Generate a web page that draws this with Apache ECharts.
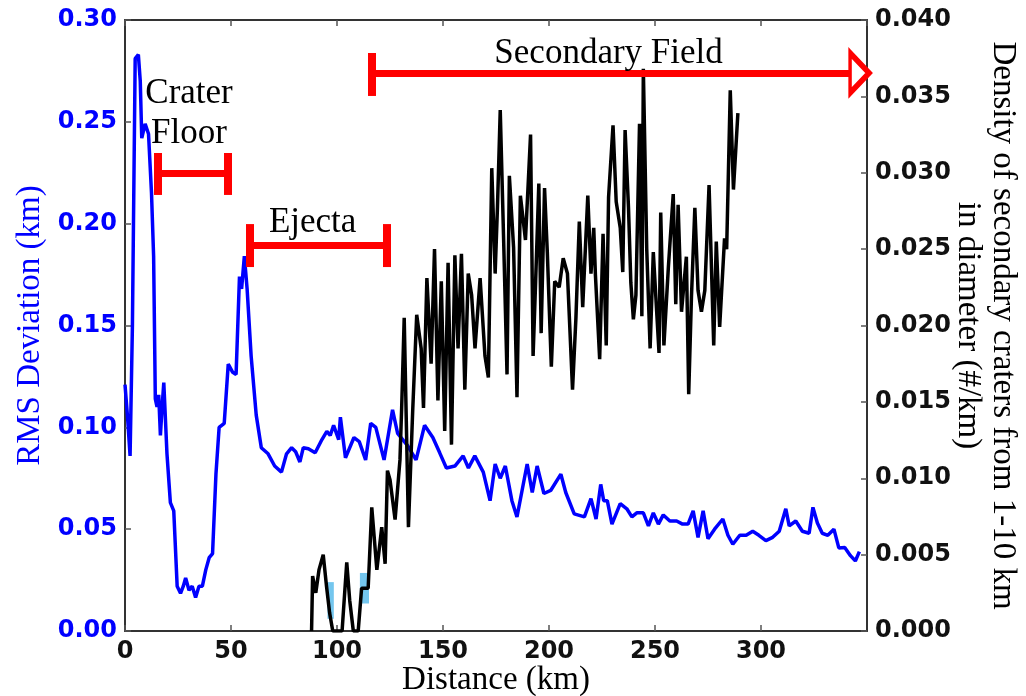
<!DOCTYPE html>
<html>
<head>
  <meta charset="UTF-8">
  <style>
    body { margin: 0; background: #fff; }
    #main { width: 1026px; height: 696px; }
  </style>
</head>
<body>
  <div id="main"></div>
</body>
  <script src="https://cdn.jsdelivr.net/npm/echarts@6/dist/echarts.min.js"></script>
  <script type="text/javascript">
    // RMS deviation (km) along the profile, left axis
    var rmsDistance = [0, 1.2, 2.4, 3.5, 4.8, 6.3, 7.2, 7.9, 9.5, 11.1, 12.5, 13.5, 14.3, 15.1, 15.9, 16.7, 17.5, 18.3, 19.8, 21.4,
      23, 24.6, 26.2, 27.5, 28.6, 30.2, 31.7, 33.3, 34.9, 36.5, 38.1, 39.7, 41.3, 42.9, 44.4, 46.8, 48.7, 50.8, 52.4, 54,
      55, 56.3, 57.6, 59.5, 61.9, 64.3, 67.5, 70.6, 73.8, 76.2, 78.6, 80.5, 82.5, 84.1, 86.5, 89.7, 92.9, 95.2, 96.8, 98.4,
      100.8, 101.6, 104, 108, 110.5, 113.5, 115.9, 118.3, 122.2, 126.2, 128.6, 133.3, 137.3, 141.3, 145.2, 148.4, 151.6, 155.6, 159.5, 162,
      165, 169, 172.2, 174.6, 177, 179.4, 182.5, 184.9, 187.3, 189.7, 192.1, 194.4, 197.6, 200.8, 205.6, 207.9, 211.9, 216.7, 219.8, 222.2,
      224.4, 225.8, 227.5, 229.7, 233.6, 236.7, 239.1, 241.4, 244.5, 246.9, 249.2, 251.6, 253.9, 257, 260.2, 263, 265.6, 268, 270.3, 272.7,
      275, 278.1, 282, 284.4, 286.7, 290, 293, 296.1, 299, 302.3, 305.5, 308.6, 311.7, 313.3, 316.4, 319.5, 322.7, 324.5, 326.6, 328.9,
      331.5, 334.4, 336.7, 339.5, 342.2, 344.5, 346.4];
    var rmsValues = [0.121, 0.105, 0.086, 0.15, 0.281, 0.283, 0.27, 0.242, 0.249, 0.244, 0.215, 0.184, 0.114, 0.11, 0.116, 0.096, 0.11, 0.122, 0.087, 0.063,
      0.059, 0.022, 0.0185, 0.022, 0.026, 0.02, 0.022, 0.0165, 0.022, 0.022, 0.03, 0.036, 0.038, 0.077, 0.1, 0.102, 0.131, 0.127, 0.126, 0.174,
      0.168, 0.184, 0.168, 0.135, 0.106, 0.09, 0.087, 0.081, 0.078, 0.087, 0.09, 0.088, 0.083, 0.09, 0.0895, 0.0875, 0.094, 0.098, 0.096, 0.101,
      0.094, 0.105, 0.085, 0.095, 0.093, 0.084, 0.102, 0.1, 0.084, 0.1086, 0.097, 0.091, 0.084, 0.101, 0.095, 0.0876, 0.08, 0.081, 0.086, 0.08,
      0.086, 0.078, 0.064, 0.082, 0.075, 0.081, 0.064, 0.056, 0.069, 0.082, 0.068, 0.081, 0.0675, 0.069, 0.077, 0.068, 0.0575, 0.056, 0.065, 0.055,
      0.072, 0.064, 0.064, 0.0525, 0.0625, 0.06, 0.056, 0.058, 0.058, 0.0516, 0.058, 0.0525, 0.057, 0.054, 0.054, 0.0525, 0.0525, 0.059, 0.046, 0.059,
      0.0453, 0.05, 0.055, 0.047, 0.0426, 0.047, 0.047, 0.049, 0.047, 0.0444, 0.046, 0.049, 0.06, 0.0516, 0.054, 0.049, 0.048, 0.0607, 0.053, 0.048,
      0.047, 0.05, 0.0408, 0.041, 0.037, 0.0344, 0.039];

    // density of secondary craters (#/km), right axis
    var densityDistance = [88, 88.5, 90, 91.5, 93.5, 95, 96.5, 98, 101, 102.4, 104.6, 106, 107.7, 110, 111.6, 114.7, 116.4, 118.8, 121.1, 122.7,
      123.8, 125, 127.4, 129.7, 130.5, 131.7, 133.7, 135.7, 137.6, 139.7, 140.8, 142.4, 144.4, 146, 147.6, 149.2, 150.8, 152.4, 154, 155.6,
      157.1, 158.7, 160.3, 161.9, 163.5, 165.1, 167.5, 169.8, 171.4, 173, 174.6, 175.7, 177, 178.6, 180.2, 181.3, 183.3, 184.9, 186.5, 188.9,
      191.3, 192.5, 193.7, 195.2, 196.3, 197.9, 199.2, 201.1, 202.7, 204.8, 206.7, 208.7, 211.1, 212.7, 214.3, 215.9, 218.3, 219.8, 221.1, 221.9,
      223.9, 225.5, 227, 228.1, 230.2, 231.7, 233.6, 234.8, 235.9, 237.5, 238.6, 239.8, 241, 242.7, 243.8, 244.5, 246.1, 247.7, 249.2, 251.9,
      252.7, 254.2, 256.3, 258.6, 259.8, 260.9, 262.5, 264.8, 265.9, 267.2, 268.8, 270.3, 271.9, 273.5, 275.5, 277.7, 278.9, 280.5, 282.8, 283.8,
      285.5, 287, 289.1];
    var densityValues = [0, 0.0036, 0.0025, 0.004, 0.005, 0.003, 0.0012, 0, 0, 0, 0.0045, 0.002, 0, 0, 0.0028, 0.0028, 0.0081, 0.004, 0.0068, 0.0044,
      0.0105, 0.0099, 0.0073, 0.0112, 0.0146, 0.0205, 0.0068, 0.0144, 0.0207, 0.0185, 0.0146, 0.0231, 0.0175, 0.025, 0.0151, 0.0229, 0.0131, 0.0241, 0.0122, 0.0246,
      0.0185, 0.0247, 0.0158, 0.0234, 0.022, 0.0185, 0.0231, 0.018, 0.0166, 0.0303, 0.0234, 0.0278, 0.0341, 0.0256, 0.0168, 0.0298, 0.0251, 0.0153, 0.0285, 0.0256,
      0.0325, 0.018, 0.0229, 0.0293, 0.0195, 0.029, 0.0248, 0.0173, 0.0229, 0.0225, 0.0244, 0.0234, 0.0158, 0.0205, 0.0268, 0.0212, 0.0285, 0.0234, 0.0264, 0.0233,
      0.0178, 0.026, 0.0187, 0.0284, 0.0331, 0.0281, 0.0264, 0.0235, 0.0328, 0.0277, 0.0228, 0.0204, 0.022, 0.0332, 0.0206, 0.0368, 0.025, 0.0185, 0.0248, 0.0182,
      0.0274, 0.0187, 0.0238, 0.0286, 0.0214, 0.0279, 0.0209, 0.0245, 0.0155, 0.0219, 0.0277, 0.0223, 0.0209, 0.0223, 0.0292, 0.0187, 0.0255, 0.0199, 0.0257, 0.025,
      0.0354, 0.0289, 0.0339];

    // light blue error boxes near the start of the density curve
    var bandFrom = [[95.5, 0.0008], [110.8, 0.0018]];
    var bandTo = [[98.5, 0.0032], [115.1, 0.0038]];

    var numFont = 'DejaVu Sans';
    var serif = 'Liberation Serif';

    function pairs(xs, ys) {
      var out = [];
      for (var i = 0; i < xs.length; i++) out.push([xs[i], ys[i]]);
      return out;
    }

    var red = '#ff0000';
    function seg(x1, y1, x2, y2, w) {
      return [{ coord: [x1, y1], lineStyle: { width: w } }, { coord: [x2, y2] }];
    }

    var myChart = echarts.init(document.getElementById('main'));

    myChart.setOption({
      animation: false,
      backgroundColor: '#ffffff',
      grid: { left: 125, right: 159, top: 20, bottom: 65, outerBoundsMode: 'none' },
      xAxis: [
        {
          type: 'value', min: 0, max: 350, interval: 50, position: 'bottom',
          name: 'Distance (km)', nameLocation: 'middle', nameGap: 33, nameMoveOverlap: false,
          nameTextStyle: { fontFamily: serif, fontSize: 33, color: '#000' },
          axisLine: { onZero: false, lineStyle: { color: '#333', width: 2 } },
          axisTick: { inside: true, length: 6, lineStyle: { color: '#555', width: 1.5 } },
          axisLabel: { showMaxLabel: false, margin: 9, fontFamily: numFont, fontWeight: 'bold', fontSize: 24, color: '#111' },
          splitLine: { show: false }
        },
        {
          type: 'value', min: 0, max: 350, interval: 50, position: 'top',
          axisLine: { onZero: false, lineStyle: { color: '#333', width: 2 } },
          axisTick: { inside: true, length: 6, lineStyle: { color: '#555', width: 1.5 } },
          axisLabel: { show: false },
          splitLine: { show: false }
        }
      ],
      yAxis: [
        {
          type: 'value', min: 0, max: 0.3, interval: 0.05, position: 'left',
          name: 'RMS Deviation (km)', nameLocation: 'middle', nameGap: 78, nameMoveOverlap: false,
          nameTextStyle: { fontFamily: serif, fontSize: 33, color: '#0000ff' },
          axisLine: { show: true, onZero: false, lineStyle: { color: '#333', width: 2 } },
          axisTick: { show: true, inside: true, length: 6, lineStyle: { color: '#555', width: 1.5 } },
          axisLabel: {
            margin: 8, fontFamily: numFont, fontWeight: 'bold', fontSize: 24, color: '#0000ff',
            formatter: function (v) { return v.toFixed(2); }
          },
          splitLine: { show: false }
        },
        {
          type: 'value', min: 0, max: 0.04, interval: 0.005, position: 'right',
          name: 'Density of secondary craters from 1-10 km\nin diameter (#/km)',
          nameLocation: 'middle', nameGap: 83, nameRotate: -90, nameMoveOverlap: false,
          nameTextStyle: { fontFamily: serif, fontSize: 33, lineHeight: 35, color: '#000', align: 'center' },
          axisLine: { show: true, onZero: false, lineStyle: { color: '#333', width: 2 } },
          axisTick: { show: true, inside: true, length: 6, lineStyle: { color: '#555', width: 1.5 } },
          axisLabel: {
            margin: 8, fontFamily: numFont, fontWeight: 'bold', fontSize: 24, color: '#111',
            formatter: function (v) { return v.toFixed(3); }
          },
          splitLine: { show: false }
        }
      ],
      series: [
        {
          name: 'rms',
          type: 'line',
          xAxisIndex: 0, yAxisIndex: 0,
          data: pairs(rmsDistance, rmsValues),
          showSymbol: false,
          lineStyle: { color: '#0000ff', width: 3.5 },
          z: 2,
          markLine: {
            silent: true,
            symbol: 'none',
            label: { show: false },
            lineStyle: { color: red, type: 'solid', width: 7, cap: 'butt' },
            data: [
              // crater floor
              seg(15.1, 0.2246, 48.5, 0.2246, 7),
              seg(15.3, 0.2141, 15.3, 0.2347, 8),
              seg(48.3, 0.2141, 48.3, 0.2347, 8),
              // ejecta
              seg(59.0, 0.1895, 123.6, 0.1895, 7),
              seg(59.0, 0.1787, 59.0, 0.1998, 8),
              seg(123.6, 0.1787, 123.6, 0.1998, 8),
              // secondary field
              seg(116.5, 0.274, 342, 0.274, 7),
              seg(116.5, 0.2627, 116.5, 0.2838, 8)
            ]
          },
          markPoint: {
            silent: true,
            data: [
              {
                coord: [346.5, 0.274], symbol: 'path://M0,0L20,21L0,42Z', symbolSize: [19, 40],
                itemStyle: { color: '#ffffff', borderColor: red, borderWidth: 5 },
                label: { show: false }
              },
              {
                coord: [30.2, 0.2538], symbolSize: 0,
                label: { show: true, position: 'inside', formatter: 'Crater\nFloor', fontFamily: serif, fontSize: 35, lineHeight: 40, color: '#000', align: 'center' }
              },
              {
                coord: [88.5, 0.2003], symbolSize: 0,
                label: { show: true, position: 'inside', formatter: 'Ejecta', fontFamily: serif, fontSize: 35, color: '#000' }
              },
              {
                coord: [228.1, 0.2833], symbolSize: 0,
                label: { show: true, position: 'inside', formatter: 'Secondary Field', fontFamily: serif, fontSize: 35, color: '#000' }
              }
            ]
          }
        },
        {
          name: 'density',
          type: 'line',
          xAxisIndex: 0, yAxisIndex: 1,
          data: pairs(densityDistance, densityValues),
          showSymbol: false,
          lineStyle: { color: '#000000', width: 3.5 },
          z: 3,
          markArea: {
            silent: true,
            itemStyle: { color: '#74c6ee' },
            data: [
              [{ coord: bandFrom[0] }, { coord: bandTo[0] }],
              [{ coord: bandFrom[1] }, { coord: bandTo[1] }]
            ]
          }
        }
      ]
    });
  </script>
</html>
